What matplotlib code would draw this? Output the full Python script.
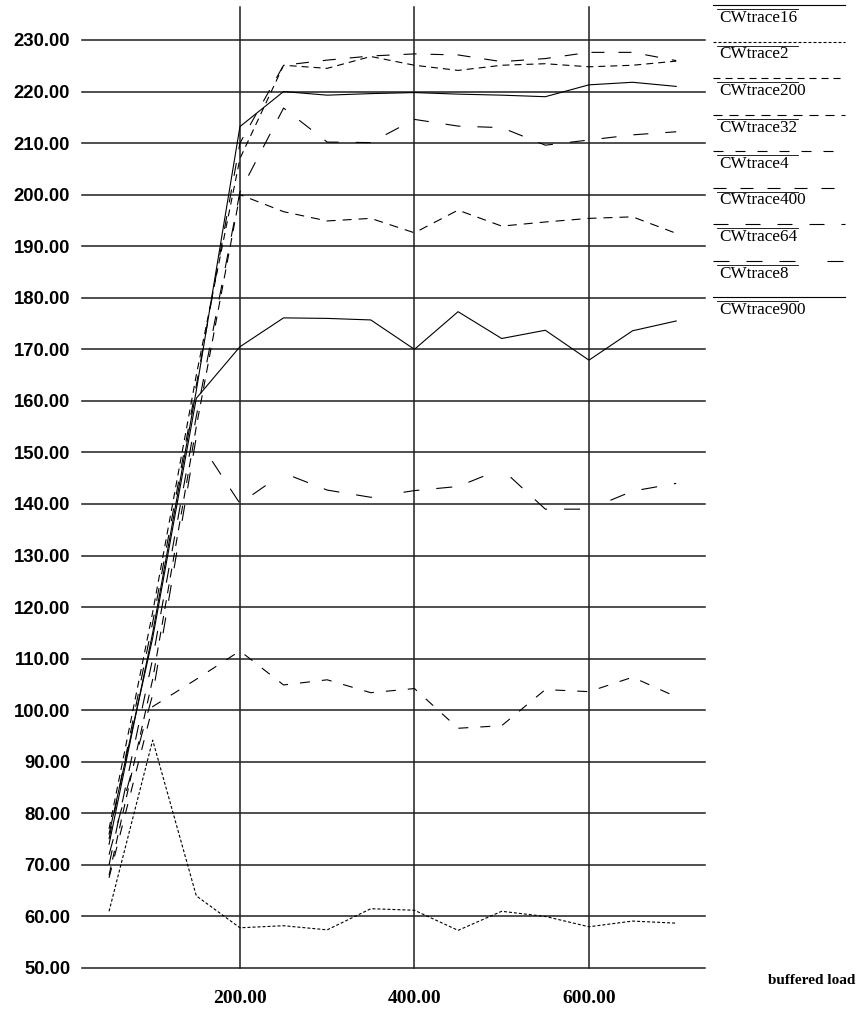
import matplotlib
matplotlib.use('Agg')
import matplotlib.pyplot as plt
from matplotlib.lines import Line2D

plt.rcParams['lines.scale_dashes'] = False

# Carga con buffer (eje x)
carga = [50, 100, 150, 200, 250, 300, 350, 400, 450, 500, 550, 600, 650, 700]

# Throughput de cada traza
cw16 = [76, 114, 160.5, 170.5, 176.1, 176.0, 175.7, 170.0, 177.3, 172.1, 173.7, 167.9, 173.6, 175.5]
cw2 = [61, 94.2, 64.0, 57.8, 58.2, 57.4, 61.5, 61.2, 57.3, 61.0, 60.0, 58.0, 59.1, 58.7]
cw200 = [77, 119, 165, 207, 225.1, 224.5, 226.8, 225.1, 224.1, 225.1, 225.4, 224.8, 225.1, 225.9]
cw32 = [68, 106, 155, 200.0, 196.7, 194.9, 195.4, 192.6, 197.0, 193.9, 194.7, 195.4, 195.7, 192.5]
cw4 = [67.5, 100.7, 106, 111.5, 104.9, 105.9, 103.4, 104.2, 96.5, 97.0, 104.0, 103.6, 106.4, 102.6]
cw400 = [75, 117, 163, 210, 225.1, 226.1, 226.9, 227.3, 227.1, 225.8, 226.4, 227.6, 227.6, 226.0]
cw64 = [70, 110, 157, 200.5, 216.8, 210.2, 210.1, 214.6, 213.3, 213.0, 209.6, 210.6, 211.6, 212.2]
cw8 = [72, 103, 153, 140.1, 146.0, 142.7, 141.3, 142.6, 143.4, 146.8, 139.0, 139.0, 142.5, 144.0]
cw900 = [74, 115, 162, 213.2, 220.0, 219.3, 219.6, 219.8, 219.5, 219.3, 219.0, 221.3, 221.8, 221.0]

nombres = ['CWtrace16', 'CWtrace2', 'CWtrace200', 'CWtrace32', 'CWtrace4',
           'CWtrace400', 'CWtrace64', 'CWtrace8', 'CWtrace900']
series = [cw16, cw2, cw200, cw32, cw4, cw400, cw64, cw8, cw900]

y_ticks = list(range(50, 231, 10))
x_ticks = [200, 400, 600]

# patrones de guiones (en puntos) para cada traza
px = 0.72
estilos = [None, (3, 2), (7, 5), (9, 7), (10, 12), (13, 14), (15, 17),
           (16, 17, 16, 17, 16, 32), None]

fig = plt.figure(figsize=(8.6, 10.16), dpi=100)
ax = fig.add_axes([82 / 860, 48 / 1016, 623 / 860, 961 / 1016])
ax.set_xlim(19, 733)
ax.set_ylim(50, 236.4)

# rejilla
for y in y_ticks:
    ax.axhline(y, color='#1e1e1e', lw=1.1, clip_on=False, zorder=1)
for x in x_ticks:
    ax.axvline(x, color='#1e1e1e', lw=1.1, clip_on=False, zorder=1)

for serie, estilo in zip(series, estilos):
    linea, = ax.plot(carga, serie, color='black', lw=0.8, zorder=3)
    if estilo is not None:
        linea.set_dashes([d * px for d in estilo])

for s in ax.spines.values():
    s.set_visible(False)
ax.tick_params(length=0)
ax.set_yticks(y_ticks)
ax.set_yticklabels(['%.2f' % v for v in y_ticks], fontfamily='Liberation Sans',
                   fontweight='bold', fontsize=13.3)
ax.tick_params(axis='y', pad=8.5)
ax.set_xticks(x_ticks)
ax.set_xticklabels(['%.2f' % v for v in x_ticks], fontfamily='Liberation Serif',
                   fontweight='bold', fontsize=14)
ax.tick_params(axis='x', pad=16)

fig.text(812 / 860, 1 - 980 / 1016, 'buffered load', ha='center', va='center',
         fontfamily='Liberation Serif', fontweight='bold', fontsize=11)

# leyenda a la derecha: linea de muestra y nombre debajo
y0 = 5
paso = 36.5
for i, (nombre, estilo) in enumerate(zip(nombres, estilos)):
    yl = y0 + i * paso
    muestra = Line2D([713 / 860, 845 / 860], [1 - yl / 1016] * 2, color='black',
                     lw=0.8, transform=fig.transFigure)
    if estilo is not None:
        muestra.set_dashes([d * px for d in estilo])
    fig.add_artist(muestra)
    fig.text(719 / 860, 1 - (yl + 13) / 1016, nombre, ha='left', va='center',
             fontfamily='Liberation Serif', fontsize=12.3)
    fig.add_artist(Line2D([717 / 860, 798 / 860], [1 - (yl + 4) / 1016] * 2,
                          color='black', lw=0.6, transform=fig.transFigure))

fig.savefig('out.png', dpi=100)
